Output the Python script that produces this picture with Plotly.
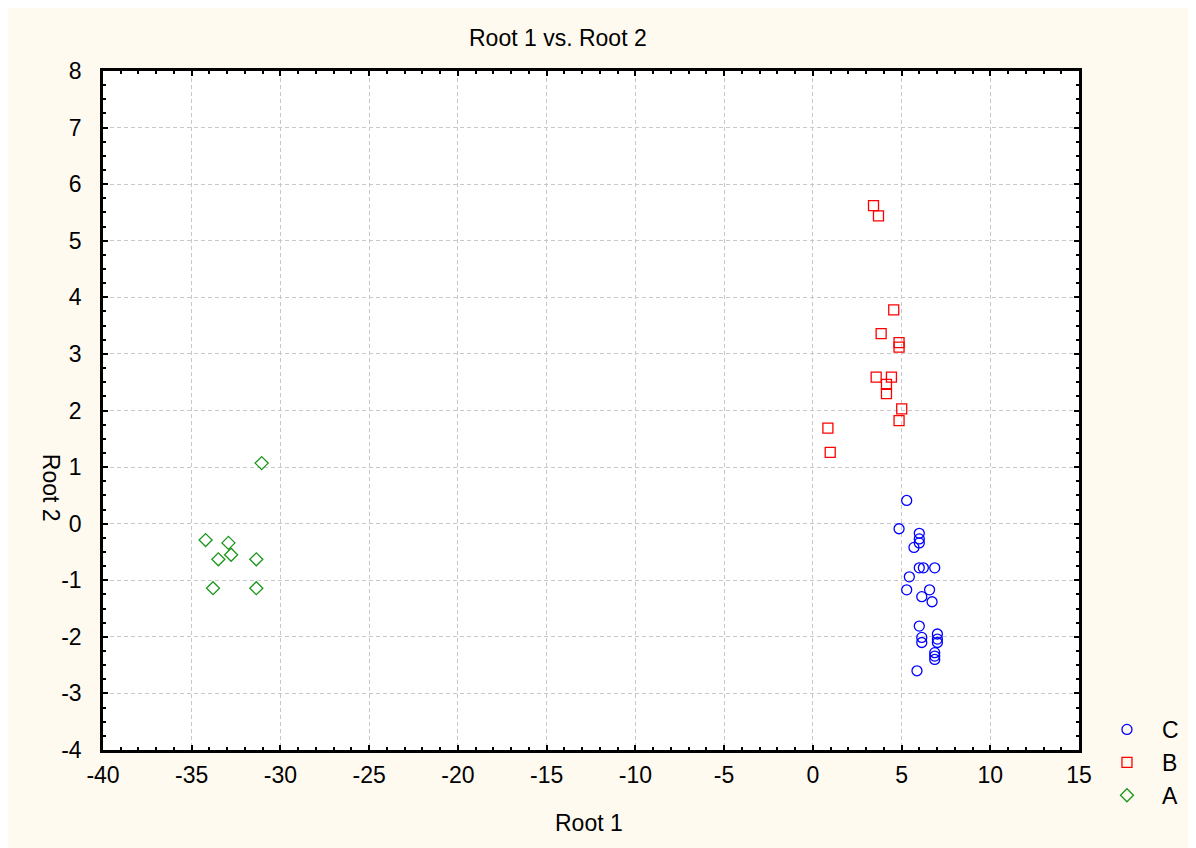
import plotly.graph_objects as go

# Series C (blue circles)
c_x = [5.29, 4.86, 6.00, 6.00, 6.00, 5.70, 6.00, 6.23, 6.87, 5.44, 5.29, 6.58,
       6.14, 6.72, 6.00, 6.14, 6.14, 7.02, 7.02, 7.02, 6.87, 6.87, 6.87, 5.87]
c_y = [0.41, -0.09, -0.17, -0.27, -0.34, -0.42, -0.78, -0.78, -0.78, -0.94, -1.17, -1.17,
       -1.29, -1.38, -1.81, -2.01, -2.10, -1.95, -2.04, -2.10, -2.28, -2.34, -2.40, -2.60]

# Series B (red squares)
b_x = [3.42, 3.70, 4.56, 3.85, 4.86, 4.86, 3.57, 4.43, 4.15, 4.15, 5.01, 4.86, 0.85, 0.98]
b_y = [5.62, 5.44, 3.78, 3.36, 3.20, 3.12, 2.59, 2.59, 2.46, 2.30, 2.03, 1.82, 1.69, 1.26]

# Series A (green diamonds)
a_x = [-31.06, -34.22, -32.93, -32.78, -33.50, -31.36, -33.80, -31.36]
a_y = [1.07, -0.29, -0.34, -0.55, -0.63, -0.63, -1.14, -1.14]

x_ticks = [-40, -35, -30, -25, -20, -15, -10, -5, 0, 5, 10, 15]
y_ticks = [-4, -3, -2, -1, 0, 1, 2, 3, 4, 5, 6, 7, 8]

FONT = "Liberation Sans, Arial, sans-serif"
FS = 23
CREAM = "#FFFAF0"

fig = go.Figure()
fig.add_trace(go.Scatter(x=c_x, y=c_y, mode="markers", name="C",
                         marker=dict(symbol="circle-open", size=10, color="#0000FF",
                                     line=dict(width=1.3, color="#0000FF"))))
fig.add_trace(go.Scatter(x=b_x, y=b_y, mode="markers", name="B",
                         marker=dict(symbol="square-open", size=10, color="#FF0000",
                                     line=dict(width=1.3, color="#FF0000"))))
fig.add_trace(go.Scatter(x=a_x, y=a_y, mode="markers", name="A",
                         marker=dict(symbol="diamond-open", size=10, color="#1A961A",
                                     line=dict(width=1.3, color="#1A961A"))))

axis_common = dict(
    showline=True, linecolor="black", linewidth=2.5, mirror="allticks",
    ticks="inside", ticklen=5, tickwidth=2, tickcolor="black",
    showgrid=True, gridcolor="#C8C8C8", griddash="4px,3px", gridwidth=1,
    zeroline=False, tickfont=dict(family=FONT, size=FS, color="black"),
)

fig.update_xaxes(range=[-40, 15], tickvals=x_ticks, ticktext=[str(v) for v in x_ticks],
                 minor=dict(dtick=1, ticks="inside", ticklen=3, tickwidth=2,
                            tickcolor="black", showgrid=False),
                 ticklabelstandoff=3, **axis_common)
fig.update_yaxes(range=[-4, 8], tickvals=y_ticks, ticktext=[str(v) for v in y_ticks],
                 minor=dict(dtick=0.25, ticks="inside", ticklen=3, tickwidth=2,
                            tickcolor="black", showgrid=False),
                 ticklabelstandoff=14, **axis_common)

# page offset of the figure inside the browser window
OX, OY = 8, 8
W, H = 1196 - OX, 848 - OY
L, T = 103 - OX, 71 - OY
R = W - (1082 - OX)
B = H - (750 - OY)
pw, ph = W - L - R, H - T - B

def px2paper(px, py):
    # px, py are window coordinates
    fx, fy = px - OX, py - OY
    return (fx - L) / pw, (H - B - fy) / ph

annots = []
tx, ty = px2paper(559, 38)
annots.append(dict(text="Root 1 vs. Root 2", x=tx, y=ty, xref="paper", yref="paper",
                   showarrow=False, xanchor="center", yanchor="middle",
                   font=dict(family=FONT, size=FS, color="black")))
tx, ty = px2paper(590, 823)
annots.append(dict(text="Root 1", x=tx, y=ty, xref="paper", yref="paper",
                   showarrow=False, xanchor="center", yanchor="middle",
                   font=dict(family=FONT, size=FS, color="black")))
tx, ty = px2paper(51, 488)
annots.append(dict(text="Root 2", x=tx, y=ty, xref="paper", yref="paper", textangle=90,
                   showarrow=False, xanchor="center", yanchor="middle",
                   font=dict(family=FONT, size=FS, color="black")))

lx, ly = px2paper(1095, 708)
fig.update_layout(
    width=W, height=H,
    margin=dict(l=L, r=R, t=T, b=B, pad=0),
    paper_bgcolor=CREAM, plot_bgcolor="white",
    showlegend=True,
    legend=dict(x=lx, y=ly, xanchor="left", yanchor="top", bgcolor="rgba(0,0,0,0)",
                font=dict(family=FONT, size=FS, color="black"),
                tracegroupgap=0, itemwidth=60),
    annotations=annots,
    font=dict(family=FONT, color="black"),
)

fig.write_html("out.html")
